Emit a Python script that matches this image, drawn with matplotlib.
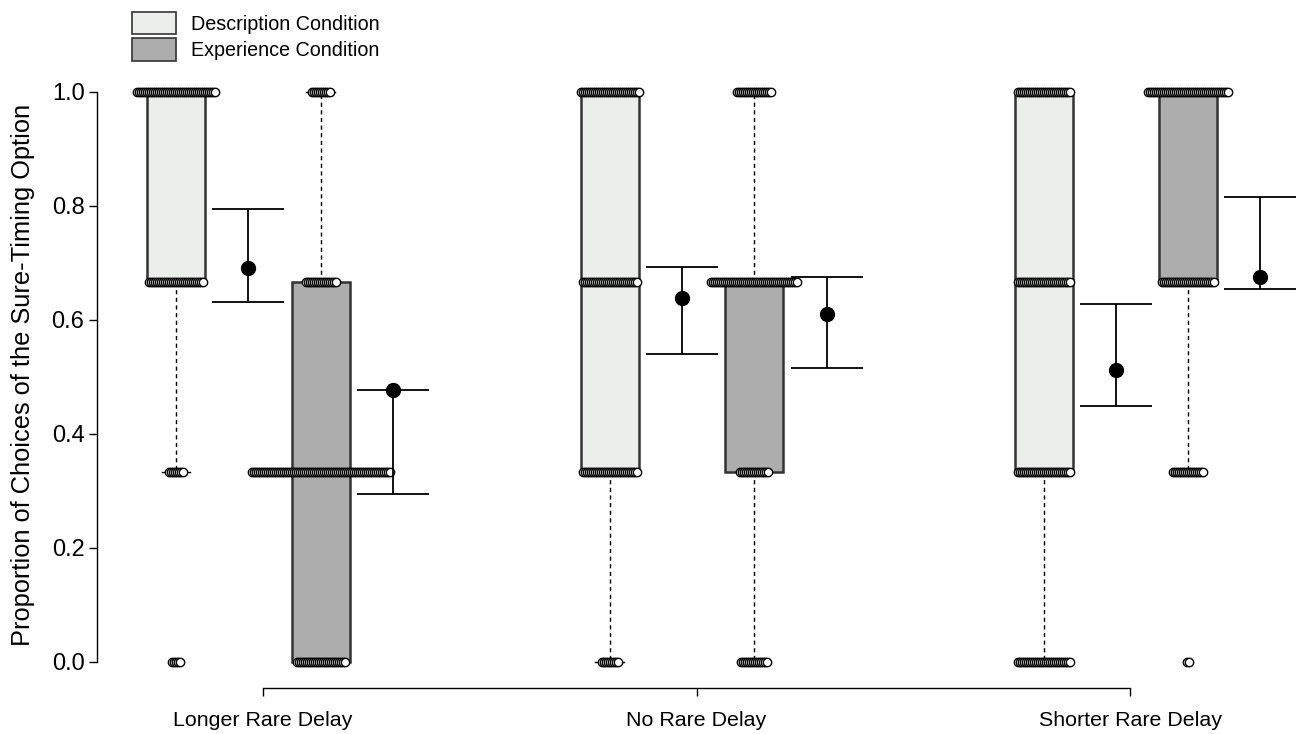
import numpy as np
import matplotlib.pyplot as plt
from matplotlib.patches import Patch

plt.rcParams['font.family'] = ['Liberation Sans Narrow', 'Liberation Sans', 'DejaVu Sans']

groups = ['Longer Rare Delay', 'No Rare Delay', 'Shorter Rare Delay']
conditions = ['Description Condition', 'Experience Condition']
levels = [0.0, 1 / 3, 2 / 3, 1.0]

# number of participants at each response level (0, 1/3, 2/3, 1), read from the dot rows
counts_desc = [[5, 8, 28, 40], [9, 28, 28, 30], [27, 27, 27, 27]]
counts_exp = [[25, 70, 16, 10], [14, 15, 44, 18], [2, 16, 27, 41]]

# box summaries: (whisker low, q1, median, q3, whisker high)
box_desc = [(1 / 3, 2 / 3, 1.0, 1.0, 1.0), (0.0, 1 / 3, 2 / 3, 1.0, 1.0), (0.0, 1 / 3, 2 / 3, 1.0, 1.0)]
box_exp = [(0.0, 0.0, 1 / 3, 2 / 3, 1.0), (0.0, 1 / 3, 2 / 3, 2 / 3, 1.0), (1 / 3, 2 / 3, 1.0, 1.0, 1.0)]

# means with confidence intervals
mean_desc = [0.691, 0.639, 0.512]
lo_desc = [0.632, 0.540, 0.449]
hi_desc = [0.795, 0.693, 0.628]
mean_exp = [0.478, 0.611, 0.675]
lo_exp = [0.295, 0.516, 0.654]
hi_exp = [0.478, 0.676, 0.816]

fill_desc = '#ECEEEC'
fill_exp = '#ADADAD'
edge = '#333333'

fig = plt.figure(figsize=(12.97, 7.34), dpi=100)
ax = fig.add_axes([97 / 1297, 46 / 734, 1200 / 1297, 648 / 734])

pos_desc = np.array([1, 7, 13])
pos_exp = pos_desc + 2
ci_desc = pos_desc + 1
ci_exp = pos_desc + 3

def stats(rows):
    out = []
    for lo, q1, med, q3, hi in rows:
        out.append(dict(whislo=lo, q1=q1, med=med, q3=q3, whishi=hi, fliers=[]))
    return out

for rows, pos, fc in [(box_desc, pos_desc, fill_desc), (box_exp, pos_exp, fill_exp)]:
    bp = ax.bxp(stats(rows), positions=pos, widths=0.8, patch_artist=True,
                showfliers=False, capwidths=0.4,
                boxprops=dict(facecolor=fc, edgecolor=edge, linewidth=1.8),
                whiskerprops=dict(color='black', linewidth=1.0, linestyle=(0, (3, 2.5))),
                capprops=dict(color='black', linewidth=1.0),
                medianprops=dict(color='black', linewidth=2.5))

# stacked dots for individual participants
spacing = 2.0 / 72.3
for counts, pos in [(counts_desc, pos_desc), (counts_exp, pos_exp)]:
    for g in range(3):
        for lev, n in zip(levels, counts[g]):
            xs = pos[g] + (np.arange(n) - (n - 1) / 2) * spacing
            ax.plot(xs, np.full(n, lev), 'o', ms=6, mfc='white', mec='black',
                    mew=1.0, zorder=5, clip_on=False)

# means and CIs
for m, lo, hi, pos in [(mean_desc, lo_desc, hi_desc, ci_desc), (mean_exp, lo_exp, hi_exp, ci_exp)]:
    m = np.array(m)
    yerr = [m - np.array(lo), np.array(hi) - m]
    ax.errorbar(pos, m, yerr=yerr, fmt='o', ms=10, color='black', ecolor='black',
                elinewidth=1.3, capsize=26, capthick=1.3, clip_on=False, zorder=6)

ax.set_xlim(-0.093, 16.505)
ax.set_ylim(-26 / 570, 1 + 52 / 570)

for s in ['top', 'right']:
    ax.spines[s].set_visible(False)
ax.spines['left'].set_bounds(0, 1)
ax.spines['bottom'].set_bounds(2.2, 14.2)
ax.spines['left'].set_linewidth(1.0)
ax.spines['bottom'].set_linewidth(1.0)

ax.set_yticks([0, 0.2, 0.4, 0.6, 0.8, 1.0])
ax.set_yticklabels(['0.0', '0.2', '0.4', '0.6', '0.8', '1.0'])
ax.set_xticks([2.2, 8.2, 14.2])
ax.set_xticklabels(groups)
ax.tick_params(axis='y', direction='out', length=6, width=1, pad=3, labelsize=17)
ax.tick_params(axis='x', direction='out', length=6, width=1, pad=10.5, labelsize=15.4)

ax.set_ylabel('Proportion of Choices of the Sure-Timing Option', fontsize=18.3)
ax.yaxis.set_label_coords(-0.052, 0.483)

handles = [Patch(facecolor=fill_desc, edgecolor=edge, linewidth=1.2),
           Patch(facecolor=fill_exp, edgecolor=edge, linewidth=1.2)]
fig.legend(handles, conditions, loc='upper left', bbox_to_anchor=(132 / 1297, 1 - 12 / 734),
           frameon=False, borderpad=0, borderaxespad=0, handlelength=2.23,
           handleheight=1.35, handletextpad=0.76, labelspacing=0.22, fontsize=14.2)

fig.savefig('out.png', dpi=100)
